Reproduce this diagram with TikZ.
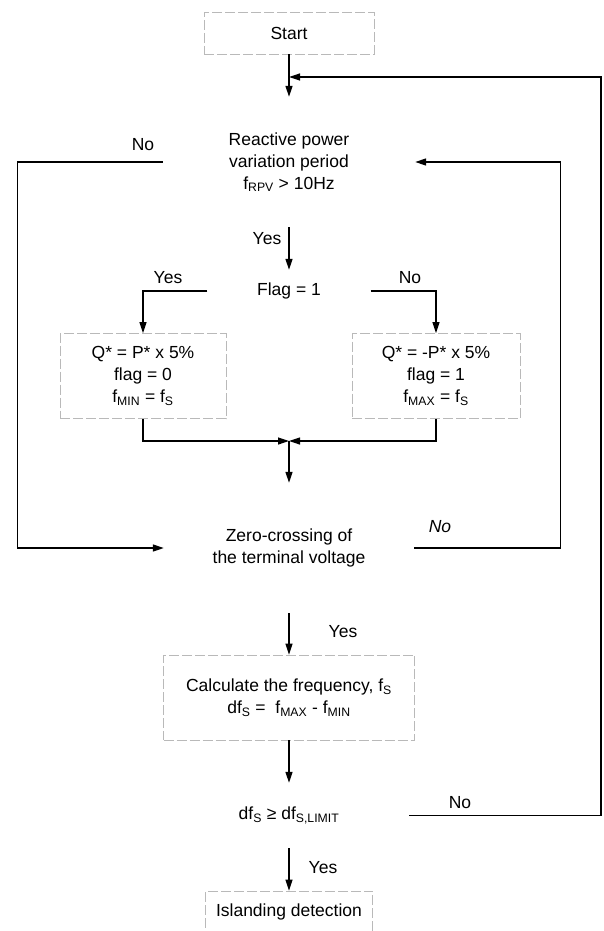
\documentclass[tikz,border=0pt]{standalone}
\usepackage{fontspec}
\setmainfont{Liberation Sans}
\usepackage{tikz}
\usetikzlibrary{positioning,arrows.meta}

\begin{document}
\begin{tikzpicture}[
  x=1pt, y=-1pt,
  font=\fontsize{17.5}{22}\selectfont,
  box/.style={draw=gray!55, dash pattern=on 10pt off 3pt, line width=0.7pt, align=center, inner sep=0pt},
  term/.style={box, minimum width=170pt, minimum height=42pt},
  proc/.style={box, minimum width=166pt, minimum height=85pt},
  dec/.style={align=center, inner sep=0pt},
  lbl/.style={inner sep=1pt},
  arr/.style={-{Triangle[length=11pt,width=7pt]}, line width=1.2pt},
  node distance=129pt, on grid,
]
\useasboundingbox (0,0) rectangle (603,931);
\node[term] (start) at (289,33) {Start};
\node[dec, below=of start, minimum width=252pt, minimum height=130pt] (rpv) {Reactive power\\variation period\\f\textsubscript{RPV} > 10Hz};
\node[dec, below=of rpv, minimum width=163pt, minimum height=42pt] (flag) {Flag = 1};
\node[proc, below left=85pt and 146pt of flag] (qmin) {Q* = P* x 5\%\\flag = 0\\f\textsubscript{MIN} = f\textsubscript{S}};
\node[proc, below right=85pt and 147pt of flag, minimum width=168pt] (qmax) {Q* = -P* x 5\%\\flag = 1\\f\textsubscript{MAX} = f\textsubscript{S}};
\coordinate[below=150pt of flag] (merge);
\node[dec, below=257pt of flag, minimum width=250pt, minimum height=130pt] (zero) {Zero-crossing of\\the terminal voltage};
\node[proc, below=149.5pt of zero, minimum width=251pt] (calc) {Calculate the frequency, f\textsubscript{S}\\df\textsubscript{S} =\ \ f\textsubscript{MAX} - f\textsubscript{MIN}};
\node[dec, below=118pt of calc, minimum width=240pt, minimum height=65pt] (df) {df\textsubscript{S} ≥ df\textsubscript{S,LIMIT}};
\node[term, below=96.5pt of df, minimum width=167pt] (island) {Islanding detection};
\coordinate (edge) at (601,77);
\coordinate (back) at (289,77);
% main flow
\draw[arr] (start) -- (rpv);
\draw[arr] (rpv) -- (flag);
\draw[arr] (flag.west) -| (qmin.north);
\draw[arr] (flag.east) -| (qmax.north);
\draw[arr] (qmin.south) |- (merge);
\draw[arr] (qmax.south) |- (merge);
\draw[arr] (merge) -- (zero.north);
\draw[arr] (zero) -- (calc);
\draw[arr] (calc) -- (df);
\draw[arr] (df) -- (island);
% loops back
\draw[arr] (rpv.west) -- ++(-145,0) |- (zero.west);
\draw[arr] (zero.east) -- ++(146,0) |- (rpv.east);
\draw[arr] (df.east) -| (edge) -- (back);
% labels
\node[lbl] (noRpv) at (143,145) {No};
\node[lbl] (yesRpv) at (267,239) {Yes};
\node[lbl] (yesFlag) at (168,278) {Yes};
\node[lbl] (noFlag) at (410,278) {No};
\node[lbl, font=\fontsize{17.5}{22}\selectfont\itshape] (noZero) at (440,527) {No};
\node[lbl] (yesZero) at (343,632) {Yes};
\node[lbl] (noDf) at (460,803) {No};
\node[lbl] (yesDf) at (323,868) {Yes};
\end{tikzpicture}
\end{document}
